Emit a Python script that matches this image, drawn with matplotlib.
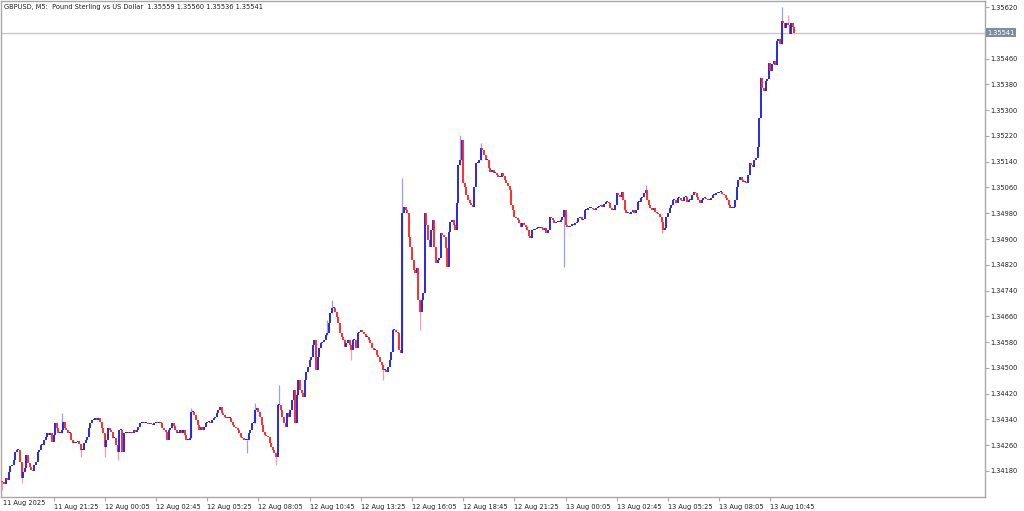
import matplotlib
matplotlib.use("Agg")
import matplotlib.pyplot as plt

# GBPUSD M5 closes, 11 Aug 18:45 .. 13 Aug 11:00
closes = [
    1.34145, 1.34138, 1.34158, 1.34152, 1.34176, 1.34196, 1.34199, 1.34214, 1.34239, 1.34245,
    1.34245, 1.34208, 1.34158, 1.34177, 1.34190, 1.34230, 1.34205, 1.34192, 1.34183, 1.34180,
    1.34199, 1.34208, 1.34239, 1.34245, 1.34261, 1.34261, 1.34276, 1.34286, 1.34298, 1.34292,
    1.34298, 1.34270, 1.34292, 1.34329, 1.34313, 1.34298, 1.34298, 1.34307, 1.34332, 1.34313,
    1.34307, 1.34298, 1.34298, 1.34276, 1.34267, 1.34267, 1.34270, 1.34272, 1.34265, 1.34245,
    1.34245, 1.34267, 1.34276, 1.34286, 1.34313, 1.34329, 1.34338, 1.34338, 1.34344, 1.34338,
    1.34344, 1.34332, 1.34313, 1.34298, 1.34254, 1.34276, 1.34313, 1.34307, 1.34301, 1.34282,
    1.34282, 1.34261, 1.34239, 1.34307, 1.34307, 1.34239, 1.34298, 1.34298, 1.34301, 1.34298,
    1.34301, 1.34298, 1.34307, 1.34301, 1.34307, 1.34317, 1.34329, 1.34329, 1.34332, 1.34329,
    1.34329, 1.34326, 1.34329, 1.34326, 1.34323, 1.34329, 1.34332, 1.34329, 1.34332, 1.34329,
    1.34313, 1.34307, 1.34301, 1.34276, 1.34307, 1.34313, 1.34329, 1.34320, 1.34307, 1.34298,
    1.34298, 1.34307, 1.34298, 1.34307, 1.34292, 1.34276, 1.34276, 1.34282, 1.34363, 1.34363,
    1.34354, 1.34338, 1.34323, 1.34307, 1.34317, 1.34307, 1.34317, 1.34329, 1.34332, 1.34332,
    1.34329, 1.34338, 1.34344, 1.34348, 1.34360, 1.34369, 1.34378, 1.34360, 1.34354, 1.34348,
    1.34344, 1.34344, 1.34344, 1.34332, 1.34323, 1.34317, 1.34313, 1.34307, 1.34298, 1.34286,
    1.34282, 1.34276, 1.34276, 1.34276, 1.34298, 1.34307, 1.34329, 1.34329, 1.34369, 1.34375,
    1.34363, 1.34348, 1.34323, 1.34301, 1.34292, 1.34289, 1.34286, 1.34267, 1.34254, 1.34245,
    1.34236, 1.34223, 1.34385, 1.34385, 1.34369, 1.34348, 1.34329, 1.34317, 1.34360, 1.34348,
    1.34369, 1.34400, 1.34431, 1.34329, 1.34416, 1.34462, 1.34431, 1.34422, 1.34410, 1.34462,
    1.34487, 1.34503, 1.34524, 1.34534, 1.34571, 1.34587, 1.34493, 1.34534, 1.34562, 1.34577,
    1.34580, 1.34587, 1.34602, 1.34608, 1.34639, 1.34670, 1.34686, 1.34686, 1.34673, 1.34658,
    1.34639, 1.34608, 1.34596, 1.34587, 1.34565, 1.34577, 1.34587, 1.34571, 1.34555, 1.34587,
    1.34587, 1.34562, 1.34608, 1.34611, 1.34618, 1.34611, 1.34605, 1.34596, 1.34596, 1.34587,
    1.34577, 1.34562, 1.34555, 1.34555, 1.34540, 1.34534, 1.34518, 1.34509, 1.34493, 1.34493,
    1.34487, 1.34503, 1.34524, 1.34549, 1.34618, 1.34618, 1.34611, 1.34608, 1.34555, 1.34546,
    1.34981, 1.35000, 1.34990, 1.34981, 1.34906, 1.34875, 1.34835, 1.34804, 1.34794, 1.34810,
    1.34711, 1.34673, 1.34711, 1.34732, 1.34981, 1.34944, 1.34897, 1.34875, 1.34928, 1.34959,
    1.34875, 1.34826, 1.34835, 1.34841, 1.34918, 1.34912, 1.34906, 1.34872, 1.34813, 1.34921,
    1.34952, 1.34959, 1.34943, 1.34928, 1.35012, 1.35129, 1.35145, 1.35206, 1.35073, 1.35061,
    1.35036, 1.35021, 1.35012, 1.35006, 1.35000, 1.35061, 1.35135, 1.35135, 1.35145, 1.35182,
    1.35176, 1.35160, 1.35145, 1.35145, 1.35120, 1.35108, 1.35114, 1.35104, 1.35104, 1.35098,
    1.35092, 1.35092, 1.35104, 1.35095, 1.35083, 1.35073, 1.35064, 1.35052, 1.35006, 1.34990,
    1.34968, 1.34965, 1.34959, 1.34949, 1.34937, 1.34949, 1.34943, 1.34937, 1.34928, 1.34909,
    1.34903, 1.34928, 1.34928, 1.34931, 1.34934, 1.34934, 1.34937, 1.34934, 1.34928, 1.34934,
    1.34918, 1.34928, 1.34968, 1.34965, 1.34959, 1.34949, 1.34952, 1.34952, 1.34952, 1.34959,
    1.34968, 1.34990, 1.34943, 1.34937, 1.34937, 1.34940, 1.34946, 1.34943, 1.34949, 1.34952,
    1.34965, 1.34968, 1.34959, 1.34962, 1.34990, 1.34990, 1.34996, 1.34996, 1.34996, 1.34993,
    1.34990, 1.34996, 1.35000, 1.35003, 1.35006, 1.35000, 1.35009, 1.35015, 1.35015, 1.35012,
    1.34996, 1.34990, 1.34990, 1.35006, 1.35043, 1.35036, 1.35030, 1.35046, 1.35021, 1.34990,
    1.34981, 1.34981, 1.34978, 1.34984, 1.34990, 1.34981, 1.34990, 1.35015, 1.35015, 1.35027,
    1.35030, 1.35043, 1.35052, 1.35021, 1.35006, 1.34996, 1.34990, 1.34996, 1.34984, 1.34981,
    1.34978, 1.34968, 1.34952, 1.34928, 1.34934, 1.34968, 1.34981, 1.34996, 1.35006, 1.35021,
    1.35021, 1.35012, 1.35027, 1.35027, 1.35021, 1.35018, 1.35030, 1.35030, 1.35015, 1.35021,
    1.35021, 1.35036, 1.35046, 1.35043, 1.35030, 1.35021, 1.35012, 1.35021, 1.35027, 1.35027,
    1.35024, 1.35021, 1.35021, 1.35027, 1.35036, 1.35036, 1.35043, 1.35043, 1.35046, 1.35046,
    1.35040, 1.35036, 1.35027, 1.35021, 1.35006, 1.34996, 1.34996, 1.35000, 1.35021, 1.35061,
    1.35083, 1.35092, 1.35083, 1.35077, 1.35077, 1.35073, 1.35098, 1.35135, 1.35129, 1.35123,
    1.35145, 1.35151, 1.35185, 1.35277, 1.35401, 1.35370, 1.35361, 1.35392, 1.35398, 1.35448,
    1.35423, 1.35445, 1.35454, 1.35439, 1.35516, 1.35522, 1.35507, 1.35578, 1.35572, 1.35556,
    1.35572, 1.35563, 1.35538, 1.35572, 1.35559, 1.35541,
]
first_open = 1.34150

# notable wick extremes (bar index -> price)
high_wicks = {37: 1.34360, 118: 1.34375, 158: 1.34391, 173: 1.34447, 203: 1.34650,
              206: 1.34711, 250: 1.35089, 286: 1.35222, 299: 1.35197, 402: 1.35067,
              487: 1.35620, 491: 1.35595, 495: 1.35560}
low_wicks = {0: 1.34120, 12: 1.34143, 49: 1.34223, 64: 1.34223, 72: 1.34214,
             153: 1.34236, 171: 1.34199, 218: 1.34524, 238: 1.34462, 261: 1.34618,
             351: 1.34813, 412: 1.34918, 495: 1.35536}

x_ticks = [32, 64, 96, 128, 160, 192, 224, 256, 288, 320, 352, 384, 416, 448, 480]
x_labels = ["11 Aug 21:25", "12 Aug 00:05", "12 Aug 02:45", "12 Aug 05:25", "12 Aug 08:05",
            "12 Aug 10:45", "12 Aug 13:25", "12 Aug 16:05", "12 Aug 18:45", "12 Aug 21:25",
            "13 Aug 00:05", "13 Aug 02:45", "13 Aug 05:25", "13 Aug 08:05", "13 Aug 10:45"]
y_ticks = [1.34180, 1.34260, 1.34340, 1.34420, 1.34500, 1.34580, 1.34660, 1.34740, 1.34820,
           1.34900, 1.34980, 1.35060, 1.35140, 1.35220, 1.35300, 1.35380, 1.35460, 1.35620]
last_price = 1.35541
title = "GBPUSD, M5:  Pound Sterling vs US Dollar  1.35559 1.35560 1.35536 1.35541"

BLUE = "#2020e8"
RED = "#ff2424"
BLUE_W = "#9c9cf2"
RED_W = "#ff9e9e"
FRAME = "#a8a8a8"
FS = 4.8

opens = [first_open] + closes[:-1]

fig = plt.figure(figsize=(10.24, 5.11), dpi=100)
ax = fig.add_axes([0.001, 0.0274, 0.961, 0.9706])

for i, (o, c) in enumerate(zip(opens, closes)):
    up = c >= o
    hi = high_wicks.get(i, max(o, c))
    lo = low_wicks.get(i, min(o, c))
    if hi > max(o, c) or lo < min(o, c):
        ax.vlines(i, lo, hi, color=BLUE_W if up else RED_W, lw=0.9, zorder=2)
    bot, top = min(o, c), max(o, c)
    if top - bot < 0.00003:
        top = bot + 0.00003
    ax.vlines(i, bot, top, color=BLUE if up else RED, lw=1.35, zorder=3)

ax.axhline(last_price, color="#c8c8c8", lw=1.0, zorder=1)

ax.set_xlim(-0.8, 614.2)
ax.set_ylim(1.34099, 1.35639)

for s in ax.spines.values():
    s.set_color(FRAME)
    s.set_linewidth(1.0)

ax.yaxis.tick_right()
ax.set_yticks(y_ticks)
ax.set_yticklabels(["%.5f" % v for v in y_ticks])
ax.set_xticks(x_ticks)
ax.set_xticklabels(x_labels, ha="left")
ax.tick_params(axis="both", colors=FRAME, labelcolor="#202020", labelsize=FS,
               length=3, width=0.8, pad=0.5)
ax.tick_params(axis="x", pad=2)

# first label (date only) under the chart start
ax.text(0.002, -0.006, "11 Aug 2025", transform=ax.transAxes, ha="left", va="top",
        fontsize=FS, color="#202020")

# current price tag
ax.text(1.002, last_price, "1.35541", transform=ax.get_yaxis_transform(),
        ha="left", va="center", fontsize=FS, color="white",
        bbox=dict(boxstyle="square,pad=0.2", fc="#7d8ea3", ec="none"))

ax.text(0.003, 0.993, title, transform=ax.transAxes, ha="left", va="top",
        fontsize=FS, color="#202020")

fig.savefig("out.png", dpi=100)
